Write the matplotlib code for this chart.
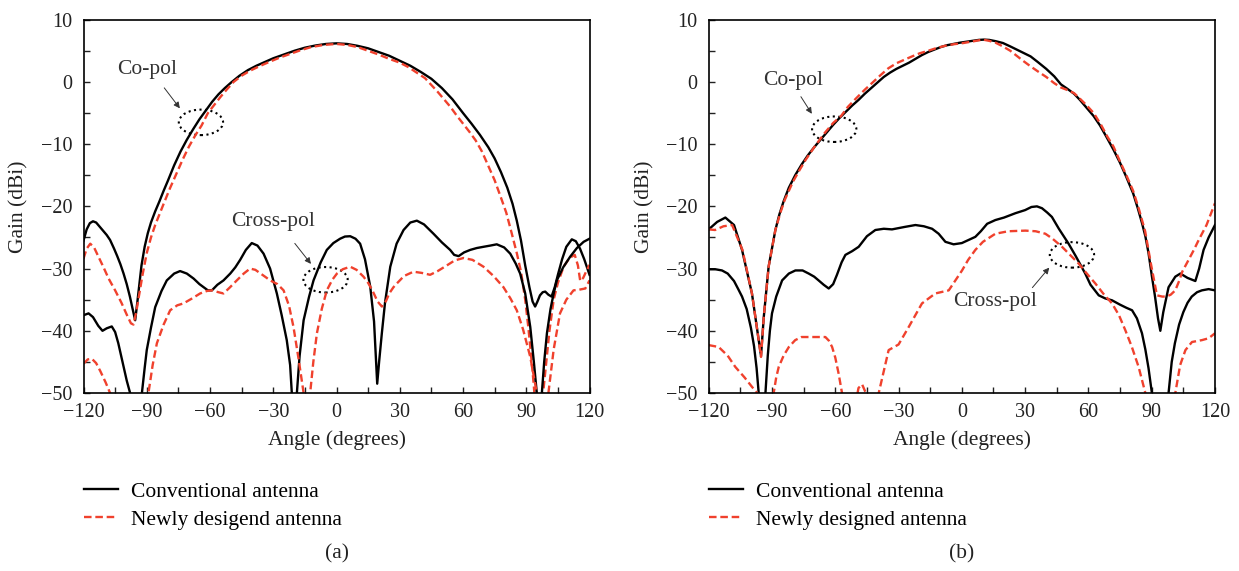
import matplotlib.pyplot as plt
from matplotlib.patches import Ellipse
from matplotlib.ticker import MultipleLocator

plt.rcParams['font.family'] = ['Liberation Serif', 'DejaVu Serif']

# ---- panel (a) ----
a_co_conv_x = [-120, -118.5, -117, -115.5, -114, -112.5, -111, -109, -107.4, -105.5, -104, -102.5, -101, -99.5,
               -98, -96.5, -95.5, -94.5, -93.5, -92.5, -91, -89.5, -88, -86, -84, -82, -80, -77, -74, -71, -68,
               -65, -62, -59, -56, -53, -50, -46, -42, -38, -34, -30, -25, -20, -15, -10, -5, 0, 5, 10, 15, 20,
               25, 30, 35, 40, 45, 50, 55, 60, 64, 68, 72, 75, 78, 81, 83.5, 85.5, 87.5, 89.5, 91.5, 93, 94.2,
               95.3, 96.5, 97.8, 99, 100.5, 102, 103.5, 105, 107, 109, 111.6, 113.5, 115.5, 117.5, 120]
a_co_conv_y = [-25.5, -23.7, -22.7, -22.4, -22.6, -23.2, -23.8, -24.6, -25.4, -26.8, -28, -29.3, -30.8, -32.5,
               -34.5, -36.8, -38.3, -35.5, -32.5, -29.5, -26.5, -24.3, -22.6, -20.8, -19.2, -17.5, -15.9, -13.4,
               -11.2, -9.3, -7.6, -6, -4.6, -3.2, -2, -1, -0.1, 1, 1.9, 2.6, 3.2, 3.8, 4.4, 5, 5.5, 5.85, 6.1,
               6.2, 6.1, 5.8, 5.4, 4.8, 4.2, 3.4, 2.6, 1.6, 0.5, -1, -2.8, -5, -6.7, -8.5, -10.5, -12.3, -14.5,
               -17, -19.6, -22.3, -25.5, -29.5, -33, -35.3, -36.1, -35.3, -34.3, -33.8, -33.7, -34.2, -34.5, -33,
               -31, -28.5, -26.5, -25.3, -25.6, -26.8, -28.5, -31]

a_co_new_x = [-120, -118.5, -116.8, -115, -112.9, -110.5, -108.1, -105, -102, -99.5, -97.5, -96.3, -95, -93.5,
              -92, -90, -88, -86, -84, -82, -79, -76, -73, -70, -67, -64, -61, -58, -55, -52, -48.8, -45, -41,
              -36.7, -32, -27, -22, -17, -12, -6, 0, 5, 10, 15, 20, 25, 30, 34, 38, 42, 45, 48, 51, 54, 57, 60,
              63, 66, 69, 72, 75, 78, 80.5, 83, 85.5, 87.5, 89.5, 91, 92.3, 93.5, 95, 96.5, 98, 99.5, 101, 103,
              105, 107.7, 110.5, 113, 114.5, 115.6, 117, 118.5, 120]
a_co_new_y = [-28.4, -26.8, -26, -26.6, -28.1, -29.8, -31.6, -33.5, -35.5, -37.4, -38.8, -39, -37, -34, -31,
              -27.5, -25, -23, -21.3, -19.6, -17.1, -14.8, -12.5, -10.4, -8.6, -7, -5, -3.7, -2.4, -1.2, 0, 1,
              1.8, 2.5, 3.2, 3.9, 4.5, 5.1, 5.6, 5.95, 6.1, 5.95, 5.6, 5, 4.4, 3.7, 3.1, 2.4, 1.5, 0.6, -0.5,
              -1.6, -2.8, -4, -5.4, -6.7, -8, -9.4, -11.2, -13.5, -15.8, -18.6, -21, -24.2, -27.5, -30.5, -35,
              -39.5, -44, -48.5, -55, -60, -50, -45, -40, -35, -32.3, -29.7, -28.3, -27.8, -29.5, -32, -31.5,
              -30.4, -29.4]

a_cx_conv_x = [-120, -117.6, -115.5, -113, -111, -109, -106.6, -105, -103.5, -101.5, -99.5, -97.9, -95, -92.3,
               -91, -90, -88, -86, -83, -80.5, -77, -74.2, -71, -67.8, -65, -63, -61, -59.1, -56.5, -53.6, -50.4,
               -48, -45.7, -43, -40.2, -37.5, -34.6, -31.5, -28.3, -26, -23.6, -22, -21.2, -20, -18.8, -17.5,
               -15.6, -13, -10.9, -7.5, -4.6, -1.5, 1.7, 4, 6.5, 9, 11.2, 13.5, 16, 17.8, 19.3, 20.2, 21.5, 23,
               25.5, 28.5, 31.8, 35, 38.1, 41.5, 46, 50, 53.9, 55.8, 57.9, 60.5, 63.4, 66.5, 69.7, 73, 76, 79.5,
               82.4, 85, 87.1, 89.5, 91.9, 93.6, 95, 96.2, 97.4, 98.5, 99.8, 101.5, 103, 104.5, 107.5, 110.8, 114,
               117.2, 120]
a_cx_conv_y = [-37.5, -37.2, -37.8, -39.2, -40, -39.6, -39.3, -40.2, -42, -45, -48, -50, -60, -50, -46, -43.1,
               -39.5, -36.2, -33.6, -31.9, -30.8, -30.4, -30.8, -31.6, -32.5, -33, -33.5, -33.5, -32.6, -31.9,
               -30.8, -29.8, -28.6, -27, -25.9, -26.3, -27.6, -30, -34, -37.5, -41.5, -45.5, -50, -60, -50, -44,
               -38.3, -34.5, -31.9, -29, -27, -25.9, -25.2, -24.85, -24.8, -25.2, -26, -28.5, -32.9, -38.5, -48.5,
               -45, -40.4, -35.5, -29.7, -26, -23.8, -22.6, -22.3, -22.9, -24.4, -25.8, -27, -27.8, -28, -27.4,
               -27, -26.7, -26.5, -26.3, -26.1, -26.6, -27.6, -29.2, -30.8, -34, -39.4, -45, -50, -60, -50, -45,
               -40.4, -36.5, -34, -31.9, -29.8, -28.1, -26.7, -25.7, -25.2]

a_cx_new_x = [-120, -118, -116, -114, -112, -109.5, -107.4, -98, -89.2, -87.2, -85.2, -82, -78.9, -75.5, -72.6,
              -68.5, -64.7, -61.5, -59, -56, -53.6, -50.5, -47.3, -44, -41, -38.5, -36, -33.5, -31.5, -28, -25.1,
              -22.5, -20.4, -18, -15.6, -14, -12.5, -11, -9.3, -7, -4.6, -2, 0.2, 3, 6.5, 9.5, 12.8, 15, 17,
              19.5, 21.5, 23.5, 25, 27, 28.6, 32, 36.5, 40.5, 44.4, 48, 52.3, 56, 60.2, 64.5, 69.7, 74.5, 79.2,
              82.5, 85.5, 88.5, 91.9, 95, 97.5, 100.5, 103, 106, 109, 112.4, 115, 118, 120]
a_cx_new_y = [-45.3, -44.6, -44.5, -45.2, -46.5, -48.3, -50, -60, -50, -45.5, -42, -39, -36.7, -35.9, -35.6,
              -34.8, -34, -33.6, -33.5, -33.8, -34, -33, -31.9, -30.8, -30, -30.2, -30.8, -31.4, -31.9, -32.5,
              -33.5, -36, -39.4, -44.5, -50, -60, -50, -45, -40.4, -36.5, -33.5, -31.8, -30.8, -30.1, -29.7,
              -30.2, -31.3, -32.3, -33.5, -35.3, -36.1, -35.2, -34, -33, -32.4, -31.2, -30.5, -30.7, -31, -30.4,
              -29.5, -28.7, -28.3, -28.6, -29.7, -31.2, -33, -34.8, -36.7, -39.8, -44.2, -50, -60, -50, -43,
              -37.2, -35, -33.5, -33.4, -33.2, -31.9]

# ---- panel (b) ----
b_co_conv_x = [-120, -116, -112.1, -108, -104.2, -99.5, -96.3, -95.2, -93.9, -91.6, -88.4, -86.5, -84.5, -82,
               -79, -76, -73, -70, -67, -64, -61, -58, -55, -52, -49, -46, -43, -40, -37, -34, -31, -28, -25, -22,
               -19, -16, -13, -10, -7, -4, -1, 2, 5, 8, 10.5, 13, 16, 19.5, 23, 26, 29, 32.6, 36, 40, 43.8, 47,
               50, 53.2, 56, 59, 62.5, 65.5, 68.5, 71.9, 75, 78, 81.2, 83.5, 85.5, 87, 88.5, 90, 91.5, 93, 94.1,
               95.5, 98, 101.2, 103.6, 107, 110.7, 112.5, 114.6, 117, 120]
b_co_conv_y = [-23.7, -22.5, -21.8, -23, -27, -34, -41.5, -44, -37.8, -29.7, -23.8, -21.3, -19.2, -17, -15,
               -13.3, -11.8, -10.5, -9.3, -8.1, -6.9, -5.8, -4.8, -3.8, -2.9, -1.9, -1, -0.1, 0.8, 1.5, 2.1, 2.6,
               3.1, 3.7, 4.3, 4.8, 5.2, 5.6, 5.9, 6.1, 6.3, 6.45, 6.6, 6.75, 6.8, 6.75, 6.55, 6.25, 5.7, 5.2,
               4.7, 4.1, 3.2, 2.1, 0.9, -0.4, -1.1, -1.9, -2.9, -4.1, -5.5, -7, -8.8, -10.9, -13, -15.3, -17.9,
               -20.4, -22.8, -24.8, -27.5, -31, -34.3, -38, -40, -37, -33, -31.3, -30.8, -31.5, -32, -30, -27,
               -25, -23]

b_co_new_x = [-120, -117, -113, -108.9, -104, -99.5, -96.3, -95.2, -93.9, -91.6, -88.4, -86, -84, -80, -77, -74,
              -70, -65, -61, -57.3, -54, -50, -46, -42, -38.5, -34.8, -31, -27, -23.6, -20, -16, -12.4, -8, -4,
              0.7, 5, 10, 13, 16, 19.5, 23, 26, 29, 32.6, 36, 40, 43.8, 47, 50, 53.2, 56, 59, 62.5, 66, 69,
              71.9, 75, 78, 81.2, 84, 86.9, 89.5, 92.5, 95, 97, 99, 101.2, 103, 104.5, 107.5, 110, 112.3, 116,
              120]
b_co_new_y = [-23.7, -23.8, -23.2, -23, -27, -34, -41.5, -44.2, -37.8, -29.7, -23.8, -21, -19, -16, -14.2,
              -12.5, -10.5, -8.2, -6.6, -5.5, -4, -2.6, -1.25, 0, 1.1, 2.2, 3, 3.6, 4.1, 4.6, 5, 5.4, 5.8, 6.05,
              6.25, 6.5, 6.8, 6.6, 6.3, 5.7, 5, 4.2, 3.4, 2.5, 1.7, 0.8, -0.2, -0.9, -1.3, -1.8, -2.7, -3.7, -5,
              -6.9, -8.8, -10.4, -12.8, -15, -17.5, -20.5, -24, -29, -34.3, -34.5, -34.5, -34.2, -33.5, -32,
              -30.5, -28.6, -27, -25.4, -23, -19.5]

b_cx_conv_x = [-120, -117, -113.7, -111, -108, -106, -104.2, -102, -100, -98.5, -97.3, -96.3, -94.7, -93.1, -92,
               -91, -90, -88, -85.2, -82, -78.9, -75.5, -72.6, -70, -67.9, -65.5, -63.1, -61, -59.2, -57, -55.2,
               -52, -48.9, -45, -41, -37, -33.1, -27, -22, -18, -14.1, -11, -7.8, -3.9, 0, 3.2, 6.4, 9, 12, 15.9,
               20, 25.4, 30, 33, 35.6, 38, 40.5, 42.7, 46, 50.6, 54, 58.5, 61, 64.9, 68, 71.2, 75, 78, 80.7, 83,
               85.4, 87, 88.5, 90.1, 94, 98, 99.5, 101, 103, 105, 107, 109, 111.5, 113.8, 117, 120]
b_cx_conv_y = [-30.1, -30.1, -30.3, -30.8, -32, -33.3, -34.5, -36.5, -39.5, -42.5, -46, -50, -60, -50, -44, -40,
               -37.2, -34.5, -31.9, -30.8, -30.3, -30.3, -30.8, -31.3, -31.9, -32.6, -33.2, -32.5, -31, -29, -27.8,
               -27.2, -26.5, -24.8, -23.8, -23.6, -23.7, -23.3, -23, -23.2, -23.6, -24.4, -25.7, -26.1, -25.9,
               -25.4, -24.9, -24, -22.8, -22.2, -21.8, -21.1, -20.6, -20.1, -20, -20.3, -21, -21.7, -23.6, -26,
               -28, -30.8, -32.6, -34.3, -34.8, -35.1, -35.8, -36.3, -36.7, -38, -40.4, -43, -46, -50, -60, -50,
               -45, -42, -39, -37, -35.5, -34.5, -33.8, -33.5, -33.3, -33.5]

b_cx_new_x = [-120, -115.3, -111, -107.4, -103, -99.5, -97, -93, -89.2, -88, -86.8, -84.5, -82, -79, -76, -72,
              -68, -64.7, -63, -61.5, -60, -58.4, -56.8, -53, -50.5, -49, -47.3, -45.5, -44, -42, -39.4, -34.7,
              -30, -25.2, -18.9, -12.6, -6.2, 0.1, 3, 6.4, 10, 15.9, 22, 30.1, 35, 39.6, 43, 47.5, 51, 55.4, 59,
              63.3, 67, 71.2, 74.5, 77.5, 80.5, 83.8, 87, 94, 101.2, 103.5, 106, 109.1, 113.8, 117, 120]
b_cx_new_y = [-42.3, -42.6, -44, -45.8, -47.5, -49, -50, -60, -50, -47.5, -45.8, -44, -42.6, -41.5, -41, -41,
              -41, -41, -41.6, -42.6, -44.3, -46.9, -50, -55, -52, -49.2, -48.6, -50, -52, -55, -50, -43.1, -42.2,
              -39.4, -35.6, -34, -33.5, -30.3, -28.6, -27, -25.7, -24.4, -24, -23.9, -24, -24.4, -25.2, -26.5,
              -27.7, -29.2, -30.7, -32.4, -34, -35.6, -37.5, -39.9, -42.5, -45.8, -50, -60, -50, -45.5, -43.1,
              -41.8, -41.5, -41.2, -40.4]

# annotation spots: text, ellipse centre, arrow tail, arrow head
a_copol = [(-90, 2), (-64.3, -6.5), (-82.5, -0.6), (-73.5, -4.6)]
a_xpol = [(-30, -22.4), (-5.2, -31.8), (-20.6, -25.6), (-11.3, -29.6)]
b_copol = [(-80, 0.3), (-60.5, -7.6), (-77, -2), (-70.4, -5.5)]
b_xpol = [(15.7, -35.3), (52.2, -27.8), (32.6, -33.4), (42.3, -29.5)]

labels_a = ['Conventional antenna', 'Newly desigend antenna']
labels_b = ['Conventional antenna', 'Newly designed antenna']

RED = '#f0412d'
FS_TICK = 14.5
FS = 15.5

fig = plt.figure(figsize=(12.39, 5.71), dpi=100)
ax_a = fig.add_axes([0.0674, 0.3117, 0.4084, 0.6538])
ax_b = fig.add_axes([0.5720, 0.3117, 0.4086, 0.6538])


def panel(ax, co_c, co_n, cx_c, cx_n, notes, labels, tag):
    l1, = ax.plot(co_c[0], co_c[1], color='black', lw=1.7)
    l2, = ax.plot(co_n[0], co_n[1], color=RED, lw=1.7, ls=(0, (3.2, 1.6)))
    ax.plot(cx_c[0], cx_c[1], color='black', lw=1.7)
    ax.plot(cx_n[0], cx_n[1], color=RED, lw=1.7, ls=(0, (3.2, 1.6)))

    ax.set_xlim(-120, 120)
    ax.set_ylim(-50, 10)
    ax.set_xticks(range(-120, 121, 30))
    ax.set_yticks(range(-50, 11, 10))
    ax.xaxis.set_minor_locator(MultipleLocator(15))
    ax.yaxis.set_minor_locator(MultipleLocator(5))
    ax.tick_params(which='both', direction='in', length=4, width=1, top=False, right=False,
                   labelsize=FS_TICK, colors='#222222')
    ax.tick_params(axis='x', pad=7)
    ax.tick_params(axis='y', pad=8)
    for s in ax.spines.values():
        s.set_linewidth(1.2)

    ax.set_xlabel('Angle (degrees)', fontsize=FS, color='#222222')
    ax.set_ylabel('Gain (dBi)', fontsize=FS, color='#222222')
    ax.xaxis.set_label_coords(0.5, -0.126)
    ax.xaxis.label.set_va('center')
    ax.yaxis.set_label_coords(-0.127, 0.5)
    ax.yaxis.label.set_va('center')

    for name, (txt, cen, tail, head) in notes:
        ax.text(txt[0], txt[1], name, fontsize=FS, color='#333333', ha='center', va='center')
        ax.add_patch(Ellipse(cen, 21, 4.1, fill=False, ls=':', lw=1.5, ec='black'))
        ax.annotate('', xy=head, xytext=tail,
                    arrowprops=dict(arrowstyle='-|>', lw=0.7, color='#333333', mutation_scale=9))

    ax.legend([l1, l2], labels, loc='upper left', bbox_to_anchor=(0, -0.238), frameon=False,
              borderpad=0, borderaxespad=0, handlelength=1.6, handletextpad=0.6,
              labelspacing=0.35, fontsize=FS)
    ax.text(0.5, -0.43, tag, transform=ax.transAxes, ha='center', va='center', fontsize=FS,
            color='#222222')


panel(ax_a, (a_co_conv_x, a_co_conv_y), (a_co_new_x, a_co_new_y),
      (a_cx_conv_x, a_cx_conv_y), (a_cx_new_x, a_cx_new_y),
      [('Co-pol', a_copol), ('Cross-pol', a_xpol)], labels_a, '(a)')
panel(ax_b, (b_co_conv_x, b_co_conv_y), (b_co_new_x, b_co_new_y),
      (b_cx_conv_x, b_cx_conv_y), (b_cx_new_x, b_cx_new_y),
      [('Co-pol', b_copol), ('Cross-pol', b_xpol)], labels_b, '(b)')

fig.savefig('out.png', dpi=100)
